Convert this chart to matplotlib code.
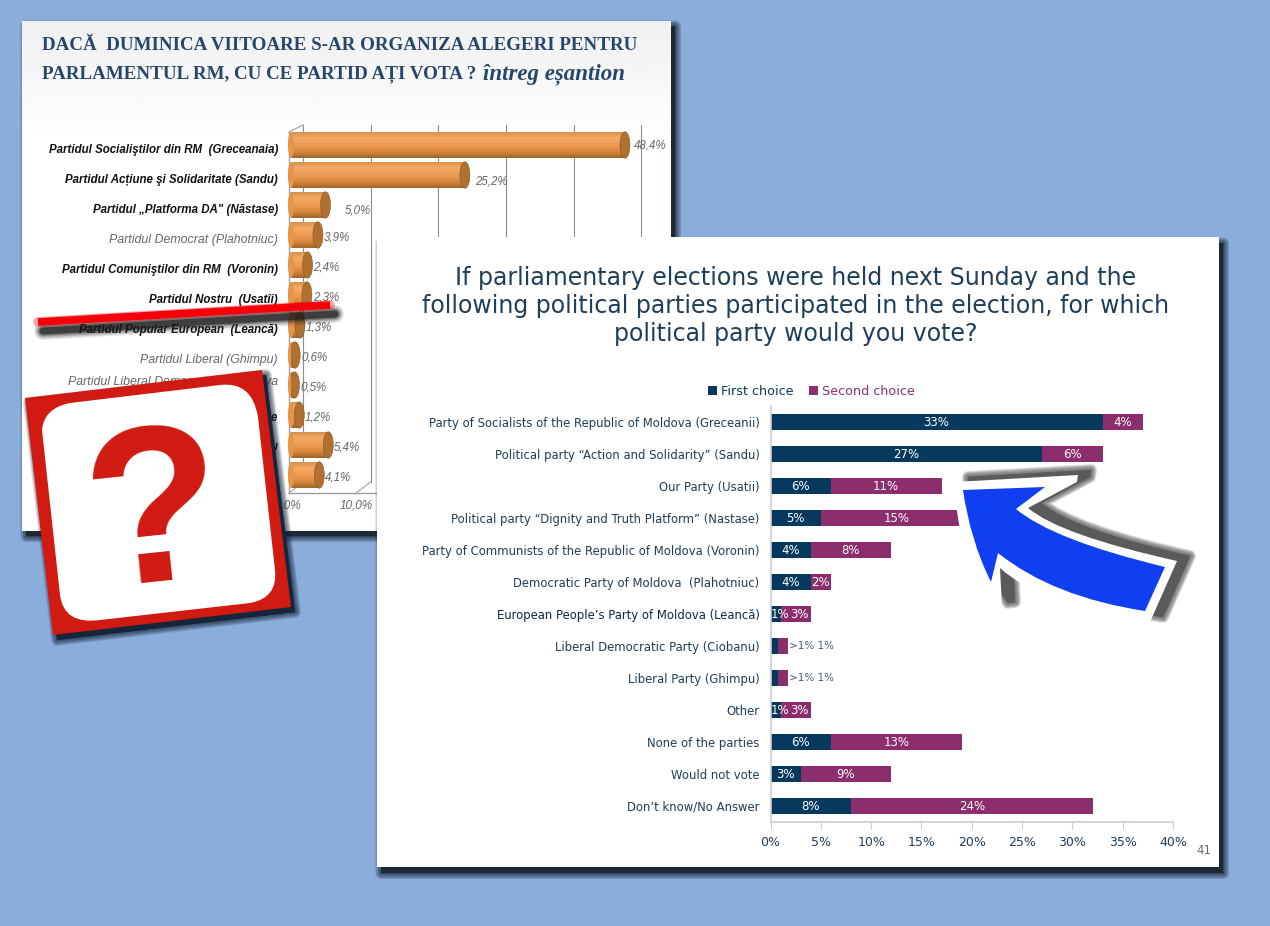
import numpy as np
import matplotlib
matplotlib.use("Agg")
import matplotlib.pyplot as plt
from matplotlib.patches import Ellipse, PathPatch, Polygon
from matplotlib.path import Path
from matplotlib.colors import LinearSegmentedColormap
from matplotlib.ticker import FuncFormatter
from matplotlib.transforms import Affine2D

W, H = 1270, 926

# Romanian poll, small chart at the back
ro_parties = [
    "Partidul Socialiştilor din RM  (Greceanaia)",
    "Partidul Acțiune şi Solidaritate (Sandu)",
    "Partidul „Platforma DA\" (Năstase)",
    "Partidul Democrat (Plahotniuc)",
    "Partidul Comuniştilor din RM  (Voronin)",
    "Partidul Nostru  (Usatîi)",
    "Partidul Popular European  (Leancă)",
    "Partidul Liberal (Ghimpu)",
    "Partidul Liberal Democrat din Moldova",
    "Alte partide",
    "Nu ştiu",
    "",
]
ro_values = [48.4, 25.2, 5.0, 3.9, 2.4, 2.3, 1.3, 0.6, 0.5, 1.2, 5.4, 4.1]
ro_labels = ["48,4%", "25,2%", "5,0%", "3,9%", "2,4%", "2,3%", "1,3%", "0,6%", "0,5%", "1,2%", "5,4%", "4,1%"]
ro_light = [3, 7, 8]

# English poll, large chart at the front
en_parties = [
    "Party of Socialists of the Republic of Moldova (Greceanii)",
    "Political party “Action and Solidarity” (Sandu)",
    "Our Party (Usatii)",
    "Political party “Dignity and Truth Platform” (Nastase)",
    "Party of Communists of the Republic of Moldova (Voronin)",
    "Democratic Party of Moldova  (Plahotniuc)",
    "European People’s Party of Moldova (Leancă)",
    "Liberal Democratic Party (Ciobanu)",
    "Liberal Party (Ghimpu)",
    "Other",
    "None of the parties",
    "Would not vote",
    "Don’t know/No Answer",
]
first_choice = [33, 27, 6, 5, 4, 4, 1, 0.75, 0.75, 1, 6, 3, 8]
second_choice = [4, 6, 11, 15, 8, 2, 3, 1, 1, 3, 13, 9, 24]
first_labels = ["33%", "27%", "6%", "5%", "4%", "4%", "1%", ">1%", ">1%", "1%", "6%", "3%", "8%"]
second_labels = ["4%", "6%", "11%", "15%", "8%", "2%", "3%", "1%", "1%", "3%", "13%", "9%", "24%"]
x_ticks = [0, 5, 10, 15, 20, 25, 30, 35, 40]

NAVY = "#06395E"
PLUM = "#8C2E6C"
TEXT = "#1F3E5A"
BLUE_BG = "#8AADDC"
RED = "#D01A12"


def px_axes(x0, y0, x1, y1, z):
    ax = fig.add_axes([x0 / W, 1 - y1 / H, (x1 - x0) / W, (y1 - y0) / H], zorder=z)
    ax.patch.set_visible(False)
    return ax


def canvas(z):
    ax = px_axes(0, 0, W, H, z)
    ax.set_xlim(0, W)
    ax.set_ylim(H, 0)
    ax.axis("off")
    return ax


def soft_shadow(ax, path, dx, dy, blur, color, strength=0.11):
    # stacked strokes give a soft edge without an image filter
    shifted = path.transformed(Affine2D().translate(dx, dy))
    for lw in np.linspace(blur * 2, 0.5, 10):
        ax.add_patch(PathPatch(shifted, fc=color, ec=color, lw=lw * 0.72, alpha=strength, joinstyle="round"))
    ax.add_patch(PathPatch(shifted, fc=color, ec="none"))


def rect_path(x0, y0, x1, y1):
    return Path([(x0, y0), (x1, y0), (x1, y1), (x0, y1), (x0, y0)], closed=True)


fig = plt.figure(figsize=(W / 100, H / 100), dpi=100, facecolor=BLUE_BG)

# back panel
back = canvas(1)
soft_shadow(back, rect_path(22, 21, 671, 531), 4, 5, 6, "#1b2836")
shade = np.linspace(0.94, 1.0, 60).reshape(-1, 1)
back.imshow(shade, extent=(22, 671, 140, 21), cmap="gray", vmin=0, vmax=1, aspect="auto", zorder=2)
back.add_patch(Polygon([(22, 140), (671, 140), (671, 531), (22, 531)], fc="white", ec="none", zorder=2))
back.set_xlim(0, W)
back.set_ylim(H, 0)

back.text(42, 46, "DACĂ  DUMINICA VIITOARE S-AR ORGANIZA ALEGERI PENTRU", family="Liberation Serif",
          weight="bold", size=13.65, color="#27466C", va="center", zorder=3)
back.text(42, 74, "PARLAMENTUL RM, CU CE PARTID AȚI VOTA ?", family="Liberation Serif",
          weight="bold", size=13.65, color="#27466C", va="center", zorder=3)
back.text(483, 74, "întreg eșantion", family="Liberation Serif", weight="bold", style="italic",
          size=16.5, color="#27466C", va="center", zorder=3)

# 3D wall and floor of the bar chart
for gx in [303, 370.5, 438, 505.5, 573.5, 641]:
    back.plot([gx, gx], [125, 482], color="#8c8c8c", lw=0.8, zorder=3)
back.plot([289, 289], [132, 493], color="#a0a0a0", lw=1, zorder=3)
back.plot([289, 303], [132, 125], color="#a0a0a0", lw=0.8, zorder=3)
back.plot([289, 303], [493, 482], color="#a0a0a0", lw=0.8, zorder=3)
back.plot([355, 370.5], [494, 482], color="#a0a0a0", lw=0.8, zorder=3)
back.plot([289, 380], [493, 493], color="#a0a0a0", lw=1, zorder=3)
back.text(288, 506, "0,0%", style="italic", family="Liberation Sans", size=8.5, color="#666666",
          ha="center", va="center", zorder=3)
back.text(356, 506, "10,0%", style="italic", family="Liberation Sans", size=8.5, color="#666666",
          ha="center", va="center", zorder=3)

# cylinder bars, thin strips shade each bar from top to bottom
ro = px_axes(291, 130, 291 + 55 * 6.9, 490, 2)
ro.set_xlim(0, 55)
ro.set_ylim(11.5, -0.5)
ro.axis("off")
rows = np.arange(len(ro_values))
cyl = LinearSegmentedColormap.from_list("cyl", ["#d98f48", "#f4ab66", "#f0a05a", "#e8954c", "#cf8238", "#a8692c"])
n_strips = 16
strip_h = 0.88 / n_strips
for k in range(n_strips):
    off = -0.44 + (k + 0.5) * strip_h
    ro.barh(rows + off, ro_values, height=strip_h * 1.1, color=cyl(k / (n_strips - 1)), linewidth=0)

value_drop = {0: 0.7, 1: 5, 2: 4.3}
name_drop = {8: -2.2, 9: 2.2, 10: 1.5}
for i, v in enumerate(ro_values):
    ro.add_patch(Ellipse((0, i), 0.9, 0.84, fc="#e8954c", ec="none", zorder=1, clip_on=False))
    ro.add_patch(Ellipse((v, i), 1.45, 0.88, fc="#b0702f", ec="#8a5522", lw=0.4, zorder=3))
    pad = {0: 25, 1: 26, 2: 32}.get(i, 19)
    ro.annotate(ro_labels[i], (v, i), xytext=(pad * 0.72, -value_drop.get(i, 2)), textcoords="offset points",
                ha="center", va="center", style="italic", family="Liberation Sans", size=8.3, color="#666666")
    light = i in ro_light
    ro.annotate(ro_parties[i], (0, i), xytext=(-9.4, -name_drop.get(i, 3.3)), textcoords="offset points",
                ha="right", va="center", style="italic", family="Liberation Sans", annotation_clip=False,
                size=8.9 if light else 8.3, weight="normal" if light else "bold",
                color="#666666" if light else "#111111")

# front panel
front = canvas(3)
soft_shadow(front, rect_path(377, 237, 1219, 867), 4, 6, 6, "#1b2836")
front.add_patch(PathPatch(rect_path(377, 237, 1219, 867), fc="white", ec="none"))
title_lines = [
    "If parliamentary elections were held next Sunday and the",
    "following political parties participated in the election, for which",
    "political party would you vote?",
]
for line, y in zip(title_lines, [278, 306, 334]):
    front.text(796, y, line, family="DejaVu Sans", size=17, color=TEXT, ha="center", va="center")
front.text(1204, 851, "41", family="DejaVu Sans", size=8.5, color="#6a6a6a", ha="center", va="center")

# stacked bars
en = px_axes(770.5, 406, 1173, 822, 4)
rows = np.arange(len(en_parties))
en.barh(rows, first_choice, height=0.5, color=NAVY, label="First choice")
en.barh(rows, second_choice, left=first_choice, height=0.5, color=PLUM, label="Second choice")
en.set_xlim(0, 40)
en.set_ylim(12.5, -0.5)
en.set_yticks(rows, en_parties)
en.set_xticks(x_ticks)
en.xaxis.set_major_formatter(FuncFormatter(lambda v, _: f"{v:.0f}%"))
en.tick_params(axis="y", length=0, pad=8, labelsize=8.4, labelcolor=TEXT)
en.tick_params(axis="x", length=5, color="#c8cdd4", labelsize=9, labelcolor=TEXT, pad=5)
for s in ["top", "right"]:
    en.spines[s].set_visible(False)
for s in ["left", "bottom"]:
    en.spines[s].set_color("#c8cdd4")
    en.spines[s].set_linewidth(1.2)
en.get_yticklabels()[6].set_color("#0b2a44")

for i, (a, b) in enumerate(zip(first_choice, second_choice)):
    if first_labels[i].startswith(">"):
        # too narrow for the bar, so the labels go beside it
        en.annotate(f"{first_labels[i]} {second_labels[i]}", (a + b, i), xytext=(0.5, 0), textcoords="offset points",
                    va="center", size=7.5, color="#4a5a68")
        continue
    shift = 3 if a == 1 else 0
    en.annotate(first_labels[i], (a / 2, i), xytext=(shift, 0), textcoords="offset points",
                color="white", size=8.5, ha="center", va="center")
    en.annotate(second_labels[i], (a + b / 2, i), xytext=(shift, 0), textcoords="offset points",
                color="white", size=8.5, ha="center", va="center")

leg = en.legend(ncol=2, loc="lower left", bbox_to_anchor=(-0.155, 1.019), frameon=False, fontsize=9.2,
                handlelength=0.7, handleheight=0.7, handletextpad=0.3, columnspacing=1.2, borderpad=0, borderaxespad=0)
for t, c in zip(leg.get_texts(), [NAVY, PLUM]):
    t.set_color(c)

# overlays: arrow, slash and sticker
top = canvas(5)
arrow = Path(
    [(963, 490), (1045, 487), (1016, 509), (1053, 540), (1165, 567), (1145, 611),
     (1053, 597), (998, 553), (991, 582), (970, 540), (963, 490), (963, 490)],
    [Path.MOVETO, Path.LINETO, Path.LINETO, Path.CURVE3, Path.CURVE3, Path.LINETO,
     Path.CURVE3, Path.CURVE3, Path.LINETO, Path.CURVE3, Path.CURVE3, Path.CLOSEPOLY],
)
arrow_outline = Path(
    [(955, 482), (1078, 475), (1077, 482), (1028, 508), (1060, 535), (1177, 561), (1150, 622),
     (1040, 605), (1000, 568), (1002, 607), (995, 608), (955, 550), (955, 482), (955, 482)],
    [Path.MOVETO, Path.LINETO, Path.LINETO, Path.LINETO, Path.CURVE3, Path.CURVE3, Path.LINETO,
     Path.CURVE3, Path.CURVE3, Path.LINETO, Path.LINETO, Path.CURVE3, Path.CURVE3, Path.CLOSEPOLY],
)
soft_shadow(top, arrow_outline, 13, -5, 6, "#5a5a5a", strength=0.16)
top.add_patch(PathPatch(arrow_outline, fc="white", ec="none"))
top.add_patch(PathPatch(arrow, fc="#0F3FF0", ec="none"))

slash_x, slash_y = [38, 330], [322, 305]
for lw, a in [(13, 0.1), (11, 0.15), (9, 0.2), (7, 0.35), (5, 0.6)]:
    top.plot([x + 5 for x in slash_x], [y + 9 for y in slash_y], color="#1a1a1a", lw=lw, alpha=a, solid_capstyle="round")
top.plot(slash_x, slash_y, color="#F5000A", lw=7, alpha=0.35, solid_capstyle="round")
top.plot(slash_x, slash_y, color="#F5000A", lw=5.5, solid_capstyle="butt")

sticker = Path([(25, 398), (262, 370), (291, 607), (53, 635), (25, 398)], closed=True)
soft_shadow(top, sticker, 4, 5, 6, "#16263a")
top.add_patch(PathPatch(sticker, fc=RED, ec="none"))
inner = Path(
    [(42, 430), (44, 408), (70, 403), (220, 385), (252, 381), (258, 417), (275, 570), (278, 598), (250, 603),
     (100, 620), (64, 625), (60, 595), (42, 430), (42, 430)],
    [Path.MOVETO, Path.CURVE3, Path.CURVE3, Path.LINETO, Path.CURVE3, Path.CURVE3, Path.LINETO, Path.CURVE3,
     Path.CURVE3, Path.LINETO, Path.CURVE3, Path.CURVE3, Path.LINETO, Path.CLOSEPOLY],
)
top.add_patch(PathPatch(inner, fc="white", ec="none"))
top.text(155, 522, "?", family="Liberation Sans", weight="bold", size=160, color=RED, rotation=6,
         ha="center", va="center")

fig.savefig("out.png", dpi=100, facecolor=BLUE_BG)
plt.close(fig)
